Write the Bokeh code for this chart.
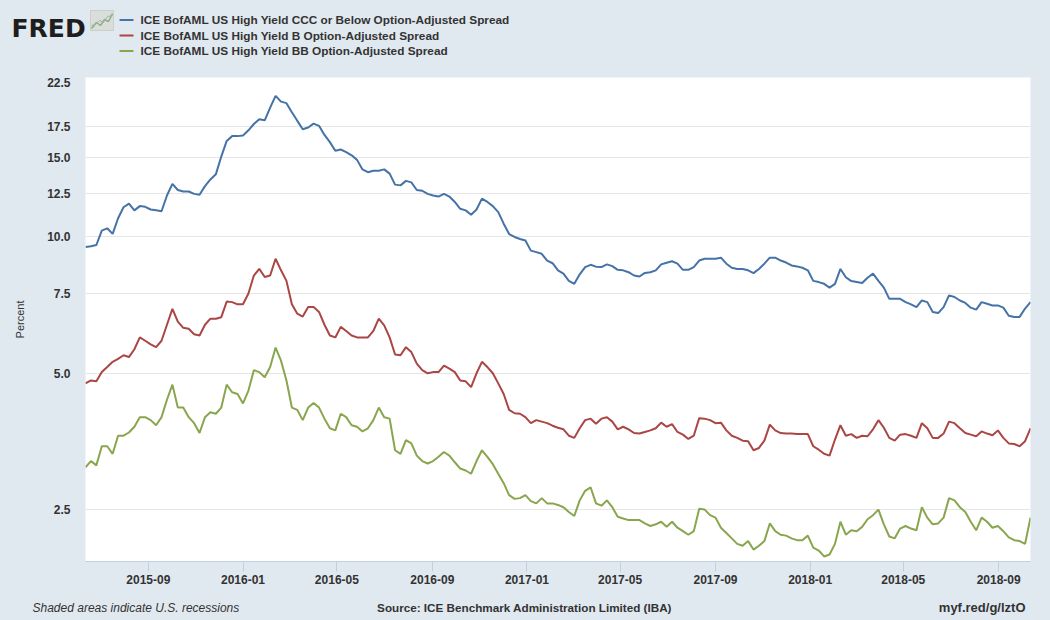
import pandas as pd
from bokeh.plotting import figure
from bokeh.layouts import column, row
from bokeh.models import (Range1d, FixedTicker, NumeralTickFormatter, DatetimeTickFormatter,
                          Label, ColumnDataSource, GlobalInlineStyleSheet)
from bokeh.embed import file_html
from bokeh.resources import INLINE

# ---------------- data (weekly readings from the reference picture) ----------------
dates = [
    "2015-06-12", "2015-06-19", "2015-06-26", "2015-07-03", "2015-07-10", "2015-07-17", "2015-07-24",
    "2015-07-31", "2015-08-07", "2015-08-14", "2015-08-21", "2015-08-28", "2015-09-04", "2015-09-11",
    "2015-09-18", "2015-09-25", "2015-10-02", "2015-10-09", "2015-10-16", "2015-10-23", "2015-10-30",
    "2015-11-06", "2015-11-13", "2015-11-20", "2015-11-27", "2015-12-04", "2015-12-11", "2015-12-18",
    "2015-12-25",
    "2016-01-01", "2016-01-08", "2016-01-15", "2016-01-22", "2016-01-29", "2016-02-05", "2016-02-12",
    "2016-02-19", "2016-02-26", "2016-03-04", "2016-03-11", "2016-03-18", "2016-03-25", "2016-04-01",
    "2016-04-08", "2016-04-15", "2016-04-22", "2016-04-29", "2016-05-06", "2016-05-13", "2016-05-20",
    "2016-05-27", "2016-06-03", "2016-06-10", "2016-06-17", "2016-06-24", "2016-07-01", "2016-07-08",
    "2016-07-15", "2016-07-22", "2016-07-29", "2016-08-05", "2016-08-12", "2016-08-19", "2016-08-26",
    "2016-09-02", "2016-09-09", "2016-09-16", "2016-09-23", "2016-09-30", "2016-10-07", "2016-10-14",
    "2016-10-21", "2016-10-28", "2016-11-04", "2016-11-11", "2016-11-18", "2016-11-25", "2016-12-02",
    "2016-12-09", "2016-12-16", "2016-12-23", "2016-12-30",
    "2017-01-06", "2017-01-13", "2017-01-20", "2017-01-27", "2017-02-03", "2017-02-10", "2017-02-17",
    "2017-02-24", "2017-03-03", "2017-03-10", "2017-03-17", "2017-03-24", "2017-03-31", "2017-04-07",
    "2017-04-14", "2017-04-21", "2017-04-28", "2017-05-05", "2017-05-12", "2017-05-19", "2017-05-26",
    "2017-06-02", "2017-06-09", "2017-06-16", "2017-06-23", "2017-06-30", "2017-07-07", "2017-07-14",
    "2017-07-21", "2017-07-28", "2017-08-04", "2017-08-11", "2017-08-18", "2017-08-25", "2017-09-01",
    "2017-09-08", "2017-09-15", "2017-09-22", "2017-09-29", "2017-10-06", "2017-10-13", "2017-10-20",
    "2017-10-27", "2017-11-03", "2017-11-10", "2017-11-17", "2017-11-24", "2017-12-01", "2017-12-08",
    "2017-12-15", "2017-12-22", "2017-12-29",
    "2018-01-05", "2018-01-12", "2018-01-19", "2018-01-26", "2018-02-02", "2018-02-09", "2018-02-16",
    "2018-02-23", "2018-03-02", "2018-03-09", "2018-03-16", "2018-03-23", "2018-03-30", "2018-04-06",
    "2018-04-13", "2018-04-20", "2018-04-27", "2018-05-04", "2018-05-11", "2018-05-18", "2018-05-25",
    "2018-06-01", "2018-06-08", "2018-06-15", "2018-06-22", "2018-06-29", "2018-07-06", "2018-07-13",
    "2018-07-20", "2018-07-27", "2018-08-03", "2018-08-10", "2018-08-17", "2018-08-24", "2018-08-31",
    "2018-09-07", "2018-09-14", "2018-09-21", "2018-09-28", "2018-10-05", "2018-10-12"]

ccc = [9.5, 9.54, 9.6, 10.33, 10.45, 10.16, 11.0, 11.63, 11.85, 11.45, 11.7, 11.66,
       11.5, 11.45, 11.4, 12.35, 13.1, 12.7, 12.6, 12.6, 12.45, 12.4, 12.95, 13.4,
       13.75, 15.05, 16.3, 16.7, 16.7, 16.75, 17.2, 17.76, 18.2, 18.1, 19.3, 20.5,
       19.9, 19.75, 18.85, 18.05, 17.3, 17.45, 17.8, 17.6, 16.8, 16.2, 15.5, 15.6,
       15.4, 15.15, 14.8, 14.1, 13.9, 14.0, 14.0, 14.1, 13.8, 13.05, 13.0, 13.3,
       13.2, 12.7, 12.65, 12.45, 12.35, 12.28, 12.45, 12.28, 11.95, 11.54, 11.45, 11.2,
       11.5, 12.15, 11.95, 11.7, 11.35, 10.7, 10.15, 10.0, 9.9, 9.82, 9.33, 9.26,
       9.18, 8.87, 8.75, 8.44, 8.3, 8.0, 7.88, 8.27, 8.58, 8.68, 8.6, 8.58,
       8.7, 8.62, 8.46, 8.44, 8.36, 8.22, 8.18, 8.33, 8.36, 8.44, 8.7, 8.77,
       8.84, 8.73, 8.46, 8.46, 8.58, 8.87, 8.95, 8.95, 8.95, 9.0, 8.73, 8.55,
       8.5, 8.5, 8.44, 8.32, 8.5, 8.73, 9.0, 9.0, 8.87, 8.78, 8.65, 8.61,
       8.55, 8.44, 8.0, 7.95, 7.88, 7.73, 7.88, 8.5, 8.15, 7.99, 7.95, 7.91,
       8.13, 8.3, 8.0, 7.73, 7.3, 7.3, 7.3, 7.18, 7.1, 7.0, 7.24, 7.18,
       6.83, 6.79, 7.0, 7.43, 7.37, 7.24, 7.15, 6.98, 6.91, 7.18, 7.12, 7.06,
       7.06, 6.98, 6.7, 6.66, 6.66, 6.95, 7.18]

b = [4.75, 4.82, 4.8, 5.03, 5.16, 5.3, 5.38, 5.48, 5.43, 5.65, 6.0, 5.9,
     5.79, 5.71, 5.9, 6.4, 6.94, 6.5, 6.3, 6.27, 6.1, 6.06, 6.4, 6.6,
     6.6, 6.65, 7.2, 7.18, 7.1, 7.1, 7.5, 8.22, 8.5, 8.16, 8.22, 8.95,
     8.44, 8.0, 7.1, 6.77, 6.67, 7.0, 7.0, 6.83, 6.4, 6.06, 6.0, 6.33,
     6.2, 6.06, 6.0, 6.0, 6.0, 6.2, 6.6, 6.38, 6.0, 5.5, 5.48, 5.71,
     5.57, 5.25, 5.08, 5.0, 5.03, 5.03, 5.2, 5.12, 5.03, 4.82, 4.8, 4.66,
     5.0, 5.3, 5.16, 5.0, 4.75, 4.5, 4.15, 4.08, 4.07, 4.0, 3.88, 3.94,
     3.91, 3.88, 3.83, 3.79, 3.76, 3.64, 3.6, 3.78, 3.94, 3.97, 3.87, 3.97,
     4.0, 3.91, 3.76, 3.81, 3.76, 3.69, 3.68, 3.71, 3.74, 3.78, 3.89, 3.81,
     3.86, 3.71, 3.66, 3.58, 3.64, 3.98, 3.97, 3.94, 3.88, 3.89, 3.74, 3.64,
     3.6, 3.55, 3.54, 3.38, 3.42, 3.55, 3.85, 3.74, 3.69, 3.68, 3.68, 3.67,
     3.67, 3.67, 3.45, 3.39, 3.32, 3.29, 3.57, 3.84, 3.64, 3.67, 3.6, 3.64,
     3.63, 3.76, 3.94, 3.79, 3.6, 3.55, 3.66, 3.67, 3.64, 3.6, 3.88, 3.78,
     3.6, 3.6, 3.68, 3.91, 3.88, 3.78, 3.69, 3.66, 3.63, 3.72, 3.68, 3.65,
     3.74, 3.6, 3.5, 3.49, 3.45, 3.54, 3.78]

bb = [3.1, 3.2, 3.13, 3.45, 3.45, 3.32, 3.64, 3.64, 3.7, 3.81, 4.0, 4.0,
      3.94, 3.84, 4.0, 4.37, 4.72, 4.2, 4.2, 4.0, 3.88, 3.69, 4.0, 4.1,
      4.07, 4.2, 4.72, 4.54, 4.5, 4.29, 4.58, 5.08, 5.03, 4.9, 5.16, 5.7,
      5.33, 4.82, 4.2, 4.15, 3.94, 4.2, 4.3, 4.2, 3.97, 3.78, 3.74, 4.07,
      4.0, 3.84, 3.81, 3.72, 3.78, 3.94, 4.2, 4.0, 3.97, 3.38, 3.32, 3.56,
      3.5, 3.29, 3.2, 3.16, 3.2, 3.27, 3.35, 3.29, 3.18, 3.08, 3.05, 3.0,
      3.2, 3.38, 3.27, 3.15, 3.0, 2.86, 2.69, 2.64, 2.65, 2.69, 2.61, 2.58,
      2.65, 2.58, 2.58, 2.56, 2.53, 2.47, 2.42, 2.62, 2.75, 2.8, 2.58, 2.55,
      2.62, 2.53, 2.41, 2.39, 2.37, 2.37, 2.37, 2.33, 2.3, 2.32, 2.35, 2.29,
      2.35, 2.28, 2.24, 2.2, 2.24, 2.51, 2.5, 2.43, 2.4, 2.28, 2.22, 2.16,
      2.1, 2.08, 2.13, 2.04, 2.08, 2.13, 2.33, 2.24, 2.2, 2.19, 2.16, 2.14,
      2.14, 2.19, 2.06, 2.03, 1.97, 1.99, 2.1, 2.35, 2.2, 2.25, 2.24, 2.29,
      2.38, 2.43, 2.5, 2.32, 2.18, 2.16, 2.27, 2.3, 2.27, 2.25, 2.53, 2.4,
      2.32, 2.33, 2.4, 2.65, 2.62, 2.53, 2.47, 2.35, 2.25, 2.4, 2.35, 2.28,
      2.3, 2.24, 2.17, 2.14, 2.13, 2.1, 2.4]

series_names = ["ICE BofAML US High Yield CCC or Below Option-Adjusted Spread",
                "ICE BofAML US High Yield B Option-Adjusted Spread",
                "ICE BofAML US High Yield BB Option-Adjusted Spread"]
series_colors = ["#4572A7", "#AA4643", "#89A54E"]

x_tick_labels = ["2015-09", "2016-01", "2016-05", "2016-09", "2017-01",
                 "2017-05", "2017-09", "2018-01", "2018-05", "2018-09"]
y_ticks = [2.5, 5.0, 7.5, 10.0, 12.5, 15.0, 17.5, 22.5]
y_min, y_max = 1.92, 22.5

# ---------------- styling ----------------
BG = "#e1e9f0"
FONT = "Liberation Sans"
TXT = "#333333"
W = 1050
HEAD_H, MAIN_H, FOOT_H = 77, 514, 29
sheet = GlobalInlineStyleSheet(css="html, body { background-color: %s; }" % BG)


def blank_fig(h):
    f = figure(width=W, height=h, x_range=Range1d(0, W), y_range=Range1d(0, h),
               x_axis_location=None, y_axis_location=None, output_backend="svg",
               toolbar_location=None, min_border=0)
    f.grid.visible = False
    f.outline_line_color = None
    f.background_fill_color = BG
    f.border_fill_color = BG
    return f


def lab(f, x, y, text, size="12px", style="bold", color=TXT, align="left",
        baseline="middle", font=FONT):
    f.add_layout(Label(x=x, y=y, x_units="screen", y_units="screen", text=text,
                       text_font=font, text_font_size=size, text_font_style=style,
                       text_color=color, text_align=align, text_baseline=baseline))


# ---------------- header ----------------
head = blank_fig(HEAD_H)
lab(head, 11, 49, "FRED", size="25px", color="#1e1e1e", baseline="alphabetic", font="DejaVu Sans")
# small FRED logo icon
head.quad(left=90, right=113, bottom=47, top=67, fill_color="#d9ded9", line_color="#c9cfc9")
head.line([91, 96, 100, 104, 108, 112], [49, 55, 52, 58, 56, 64], line_color="#8fb07a", line_width=1.5)
head.line([91, 95, 99, 103, 107, 112], [52, 53, 57, 55, 61, 62], line_color="#9fb1bf", line_width=1)
for i, (name, color) in enumerate(zip(series_names, series_colors)):
    yy = 57.5 - 15.5 * i
    head.line([119, 133], [yy, yy], line_color=color, line_width=2)
    lab(head, 140, yy, name, size="11.8px")

# ---------------- main chart ----------------
x = pd.to_datetime(dates)
src = ColumnDataSource(data=dict(x=x, ccc=ccc, b=b, bb=bb))

p = figure(width=W, height=MAIN_H, x_axis_type="datetime", y_axis_type="log",
           x_range=Range1d(x[0], x[-1]), y_range=Range1d(y_min, y_max),
           output_backend="svg", toolbar_location=None,
           min_border_left=85, min_border_right=20, min_border_top=0, min_border_bottom=30)
p.border_fill_color = BG
p.background_fill_color = "white"
p.outline_line_color = None

for col, color in zip(["ccc", "b", "bb"], series_colors):
    p.line("x", col, source=src, line_color=color, line_width=2)

xt = [pd.Timestamp(s + "-01").timestamp() * 1000 for s in x_tick_labels]
p.xaxis.ticker = FixedTicker(ticks=xt)
fmt = "%Y-%m"
p.xaxis.formatter = DatetimeTickFormatter(years=fmt, months=fmt, days=fmt, hours=fmt,
                                          minutes=fmt, seconds=fmt, milliseconds=fmt,
                                          microseconds=fmt, hourmin=fmt, minsec=fmt)
p.xaxis.axis_line_color = "#C0D0E0"
p.xaxis.major_tick_line_color = "#C0D0E0"
p.xaxis.major_tick_out = 10
p.xaxis.major_tick_in = 0
p.xaxis.minor_tick_line_color = None
p.xaxis.major_label_standoff = 3
p.xgrid.visible = False

p.yaxis.ticker = FixedTicker(ticks=y_ticks)
p.yaxis.formatter = NumeralTickFormatter(format="0.0")
p.yaxis.axis_line_color = None
p.yaxis.major_tick_line_color = None
p.yaxis.minor_tick_line_color = None
p.yaxis.major_tick_out = 0
p.yaxis.major_tick_in = 0
p.yaxis.major_label_standoff = 15
p.yaxis.axis_label = "Percent"
p.yaxis.axis_label_text_font = FONT
p.yaxis.axis_label_text_font_size = "11px"
p.yaxis.axis_label_text_font_style = "normal"
p.yaxis.axis_label_text_color = TXT
p.yaxis.axis_label_standoff = 18
p.ygrid.grid_line_color = "#e6e6e6"

for ax in (p.xaxis[0], p.yaxis[0]):
    ax.major_label_text_font = FONT
    ax.major_label_text_font_size = "12px"
    ax.major_label_text_font_style = "bold"
    ax.major_label_text_color = TXT

# ---------------- footer ----------------
foot = blank_fig(FOOT_H)
lab(foot, 32, 13, "Shaded areas indicate U.S. recessions", size="12px", style="italic")
lab(foot, 524, 13, "Source: ICE Benchmark Administration Limited (IBA)", size="11.7px", align="center")
lab(foot, 1025, 13, "myf.red/g/lztO", size="13px", align="right")

layout = column(row(head), row(p), row(foot), spacing=0)
layout.stylesheets = [sheet]
open("out.html", "w").write(file_html(layout, INLINE))
